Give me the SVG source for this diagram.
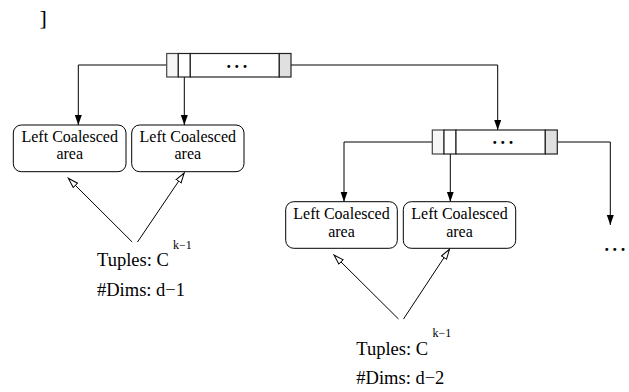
<svg xmlns="http://www.w3.org/2000/svg" width="629" height="392" viewBox="0 0 629 392">
<style>
text{font-family:"Liberation Serif","Times New Roman",serif;fill:#000}
.lbl{font-size:16px;text-anchor:middle}
.big{font-size:18.5px}
.sup{font-size:12px}
.dots{font-size:18px;font-weight:bold;letter-spacing:3.6px}
.box{fill:#fff;stroke:#000;stroke-width:1}
.cell{fill:#fff;stroke:#222;stroke-width:1.2}
.grey{fill:#e0e0e0;stroke:#222;stroke-width:1.2}
.first{fill:#f6f6f6;stroke:#444;stroke-width:1.2}
.conn{fill:none;stroke:#000;stroke-width:1}
.fa{marker-end:url(#fill)}
.ha{marker-end:url(#hollow)}
</style>
<defs>
<marker id="fill" markerUnits="userSpaceOnUse" markerWidth="11" markerHeight="8" refX="10" refY="3.5" orient="auto">
<path d="M0,0 L10,3.5 L0,7 z" fill="#000"/>
</marker>
<marker id="hollow" markerUnits="userSpaceOnUse" markerWidth="12" markerHeight="9" refX="10.5" refY="4" orient="auto">
<path d="M0.5,1 L10.5,4 L0.5,7 z" fill="#fff" stroke="#000" stroke-width="1"/>
</marker>
</defs>

<text x="39.5" y="24.5" style="font-size:22px">]</text>

<g id="connectors">
<path class="conn fa" d="M166.7,65 H78.3 V125"/>
<path class="conn fa" d="M184.3,77 V125"/>
<path class="conn fa" d="M291,65 H497.7 V130"/>
<path class="conn fa" d="M432.3,142 H344 V201.7"/>
<path class="conn fa" d="M450.3,154 V201.7"/>
<path class="conn fa" d="M557.3,142 H610.3 V225"/>
<path class="conn ha" d="M132.2,242 L68.3,178.3"/>
<path class="conn ha" d="M137.5,242 L184.2,173"/>
<path class="conn ha" d="M398.5,319 L334,255"/>
<path class="conn ha" d="M403.5,319 L449.5,249.3"/>
</g>

<g id="array1">
<rect class="first" x="166.7" y="53.5" width="11.6" height="23.5"/>
<rect class="cell" x="178.3" y="53.5" width="12" height="23.5"/>
<rect class="cell" x="190.3" y="53.5" width="89" height="23.5"/>
<rect class="grey" x="279.3" y="53.5" width="11.7" height="23.5"/>
<text class="dots" x="226.5" y="67.5">...</text>
</g>

<g id="array2">
<rect class="first" x="432.3" y="130" width="11.7" height="24"/>
<rect class="cell" x="444" y="130" width="12" height="24"/>
<rect class="cell" x="456" y="130" width="89.3" height="24"/>
<rect class="grey" x="545.3" y="130" width="12" height="24"/>
<text class="dots" x="492.5" y="144">...</text>
</g>

<g id="box1">
<rect class="box" x="13.3" y="125" width="112.7" height="46.7" rx="8"/>
<text class="lbl" x="69.7" y="141.7">Left Coalesced</text>
<text class="lbl" x="69.7" y="159.3">area</text>
</g>
<g id="box2">
<rect class="box" x="131.7" y="125" width="112.3" height="46.7" rx="8"/>
<text class="lbl" x="187.8" y="141.7">Left Coalesced</text>
<text class="lbl" x="187.8" y="159.3">area</text>
</g>
<g id="box3">
<rect class="box" x="285.7" y="201.7" width="111.6" height="46.6" rx="8"/>
<text class="lbl" x="341.5" y="219">Left Coalesced</text>
<text class="lbl" x="341.5" y="236.7">area</text>
</g>
<g id="box4">
<rect class="box" x="403.3" y="201.7" width="112.4" height="46.6" rx="8"/>
<text class="lbl" x="459.5" y="219">Left Coalesced</text>
<text class="lbl" x="459.5" y="236.7">area</text>
</g>

<g id="more">
<text class="dots" x="604.5" y="250.5">...</text>
</g>

<g id="tuples1">
<text class="big" x="97" y="265.7">Tuples: C</text>
<text class="sup" x="173" y="248.5">k−1</text>
<text class="big" x="97" y="295.5">#Dims: d−1</text>
</g>
<g id="tuples2">
<text class="big" x="356.3" y="355">Tuples: C</text>
<text class="sup" x="432.5" y="336.5">k−1</text>
<text class="big" x="356.3" y="383.5">#Dims: d−2</text>
</g>
</svg>
